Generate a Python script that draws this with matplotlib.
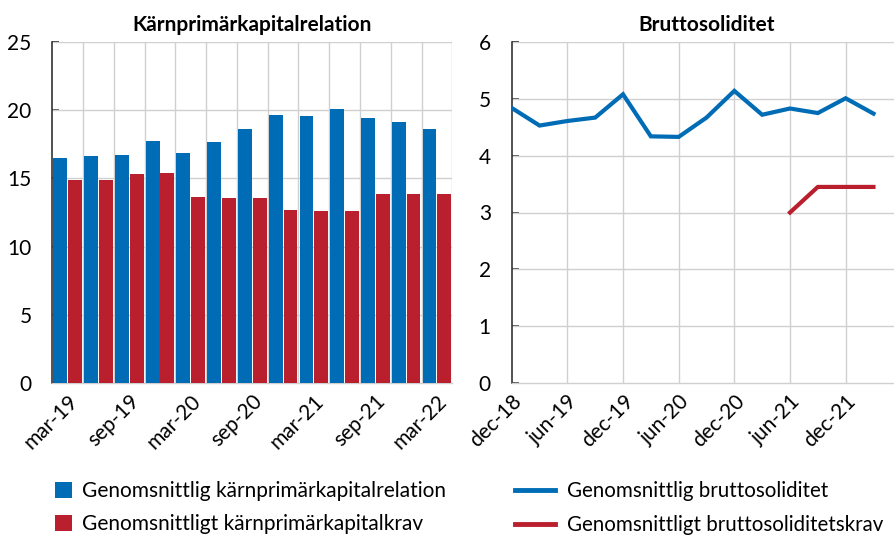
import matplotlib
matplotlib.use("Agg")
import matplotlib.pyplot as plt
from matplotlib.patches import Patch
from matplotlib.lines import Line2D
import numpy as np

plt.rcParams['font.family'] = ['Lato', 'DejaVu Sans']

# Left chart data (quarterly)
quarters = ['mar-19', 'jun-19', 'sep-19', 'dec-19', 'mar-20', 'jun-20', 'sep-20',
            'dec-20', 'mar-21', 'jun-21', 'sep-21', 'dec-21', 'mar-22']
cet1_ratio = [16.5, 16.67, 16.74, 17.74, 16.89, 17.67, 18.62, 19.62, 19.57, 20.11, 19.40, 19.16, 18.60]
cet1_req = [14.88, 14.88, 15.32, 15.37, 13.64, 13.59, 13.59, 12.71, 12.63, 12.63, 13.83, 13.83, 13.83]

# Right chart data (quarterly)
lr_quarters = ['dec-18', 'mar-19', 'jun-19', 'sep-19', 'dec-19', 'mar-20', 'jun-20',
               'sep-20', 'dec-20', 'mar-21', 'jun-21', 'sep-21', 'dec-21', 'mar-22']
leverage = [4.84, 4.53, 4.61, 4.67, 5.08, 4.34, 4.33, 4.67, 5.14, 4.72, 4.83, 4.75, 5.01, 4.74]
leverage_req = [None] * 10 + [3.0, 3.45, 3.45, 3.45]
lr_tick_labels = ['dec-18', 'jun-19', 'dec-19', 'jun-20', 'dec-20', 'jun-21', 'dec-21']

BLUE = '#006cb5'
RED = '#ba1f2e'
GRID = '#d0d0d0'

W, H = 894, 537
fig = plt.figure(figsize=(W / 100, H / 100), dpi=100)

ax1 = fig.add_axes([52.3 / W, (537 - 383) / H, 400 / W, 341 / H])
ax2 = fig.add_axes([511.7 / W, (537 - 383) / H, 389.6 / W, 341 / H])

tick_fs = 15
for ax in (ax1, ax2):
    for s in ('top', 'right'):
        ax.spines[s].set_visible(False)
    ax.spines['left'].set_color('#222222')
    ax.spines['bottom'].set_color(GRID)
    ax.spines['left'].set_linewidth(1.1)
    ax.spines['bottom'].set_linewidth(1.0)
    ax.tick_params(axis='y', labelsize=tick_fs, length=5, width=1.1, direction='in',
                   color='#222222', pad=15)
    ax.tick_params(axis='x', labelsize=tick_fs, length=0, pad=6)
    ax.set_axisbelow(True)

# Left chart
x = np.arange(len(quarters))
bw = 0.45
ax1.bar(x - 0.24, cet1_ratio, width=bw, color=BLUE, edgecolor='none', zorder=3)
ax1.bar(x + 0.24, cet1_req, width=bw, color=RED, edgecolor='none', zorder=3)
ax1.set_xlim(-0.5, len(quarters) - 0.5)
ax1.set_ylim(0, 25)
ax1.set_yticks([0, 5, 10, 15, 20, 25])
ax1.set_xticks(x[::2])
ax1.set_xticklabels(quarters[::2], rotation=45, ha='right', rotation_mode='anchor')
for v in np.arange(0.5, len(quarters), 1.0):
    ax1.axvline(v, color=GRID, lw=1, zorder=1)
for v in [5, 10, 15, 20, 25]:
    ax1.axhline(v, color=GRID, lw=1, zorder=1)
ax1.set_title('Kärnprimärkapitalrelation', fontsize=15, fontweight='bold', pad=8)

# Right chart
xl = np.arange(len(lr_quarters))
ax2.plot(xl, leverage, color=BLUE, lw=3, zorder=3, solid_joinstyle='miter')
req = np.array([np.nan if v is None else v for v in leverage_req], dtype=float)
ax2.plot(xl, req, color=RED, lw=3, zorder=3)
ax2.set_xlim(0, 14)
ax2.set_ylim(0, 6)
ax2.set_yticks(range(0, 7))
ax2.set_xticks(range(0, 13, 2))
ax2.set_xticklabels(lr_tick_labels, rotation=45, ha='right', rotation_mode='anchor')
for v in range(2, 13, 2):
    ax2.axvline(v, color=GRID, lw=1, zorder=1)
for v in range(1, 7):
    ax2.axhline(v, color=GRID, lw=1, zorder=1)
ax2.set_title('Bruttosoliditet', fontsize=15, fontweight='bold', pad=8)

# Legends
h1 = [Patch(facecolor=BLUE, edgecolor='none'), Patch(facecolor=RED, edgecolor='none')]
fig.legend(h1, ['Genomsnittlig kärnprimärkapitalrelation', 'Genomsnittligt kärnprimärkapitalkrav'],
           loc='upper left', bbox_to_anchor=(55 / W, 1 - 481 / H), frameon=False,
           fontsize=15, handlelength=0.8, handleheight=0.8, handletextpad=0.52,
           labelspacing=0.62, borderpad=0, borderaxespad=0)
h2 = [Line2D([], [], color=BLUE, lw=3.5), Line2D([], [], color=RED, lw=3.5)]
fig.legend(h2, ['Genomsnittlig bruttosoliditet', 'Genomsnittligt bruttosoliditetskrav'],
           loc='upper left', bbox_to_anchor=(515 / W, 1 - 481 / H), frameon=False,
           fontsize=14.8, handlelength=1.95, handletextpad=0.6,
           labelspacing=0.7, borderpad=0, borderaxespad=0)

fig.savefig('out.png', dpi=100)
